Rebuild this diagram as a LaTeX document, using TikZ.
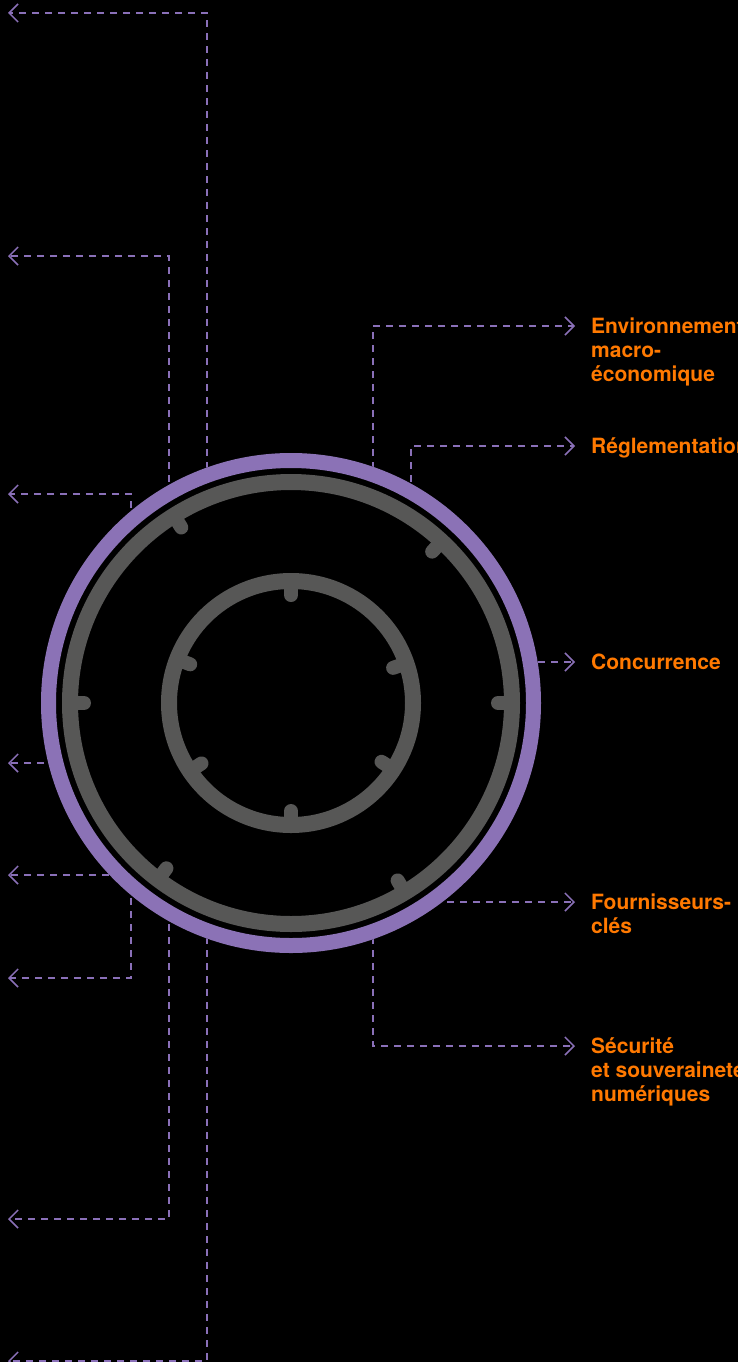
\documentclass[tikz,border=0pt]{standalone}
\usepackage{fontspec}
\setmainfont{TeX Gyre Heros}
\usetikzlibrary{arrows.meta}
\definecolor{ringpurple}{HTML}{8B72B6}
\definecolor{linepurple}{HTML}{8A70B8}
\definecolor{ringgray}{HTML}{575756}
\definecolor{lblorange}{HTML}{FF7900}
\begin{document}
\begin{tikzpicture}[x=1pt,y=-1pt,
  conn/.style={draw=linepurple, line width=1.5pt, dash pattern=on 7pt off 6pt,
    -{Straight Barb[length=9pt,width=18pt,line width=1.5pt]}},
  lbl/.style={text=lblorange, font=\fontsize{21}{24}\selectfont\bfseries,
    align=left, anchor=base west, inner sep=0pt},
  ringline/.style={draw=ringgray, line width=16pt},
  tickmark/.style={draw=ringgray, line width=14pt, line cap=round}]
\useasboundingbox (0,0) rectangle (738,1362);
\clip (0,0) rectangle (738,1362);
\fill[black] (0,0) rectangle (738,1362);

\coordinate (c) at (291,703);

% start points (hidden under the disk)
\coordinate (sA) at (207,703);
\coordinate (sB) at (169,703);
\coordinate (sC) at (131,703);
\coordinate (sD) at (291,763);
\coordinate (sE) at (291,875);
\coordinate (sF) at (373,703);
\coordinate (sG) at (411,703);
\coordinate (sH) at (291,662);
\coordinate (sI) at (291,902);

% left ends
\coordinate (e1) at (8,13);
\coordinate (e2) at (8,256);
\coordinate (e3) at (8,494);
\coordinate (e4) at (8,763);
\coordinate (e5) at (8,875);
\coordinate (e6) at (8,978);
\coordinate (e7) at (8,1219);
\coordinate (e8) at (8,1361);

% right ends
\coordinate (r1) at (575,326);
\coordinate (r2) at (575,446);
\coordinate (r3) at (575,662);
\coordinate (r4) at (575,902);
\coordinate (r5) at (575,1046);

% connectors
\draw[conn] (sA) |- (e1);
\draw[conn] (sB) |- (e2);
\draw[conn] (sC) |- (e3);
\draw[conn] (sD) -- (e4);
\draw[conn] (sE) -- (e5);
\draw[conn] (sC) |- (e6);
\draw[conn] (sB) |- (e7);
\draw[conn] (sA) |- (e8);
\draw[conn] (sF) |- (r1);
\draw[conn] (sG) |- (r2);
\draw[conn] (sH) -- (r3);
\draw[conn] (sI) -- (r4);
\draw[conn] (sF) |- (r5);

% hub
\fill[black] (c) circle[radius=250];
\draw[ringpurple, line width=15pt] (c) circle[radius=242.5];
\draw[ringline] (c) circle[radius=221];
\draw[ringline] (c) circle[radius=122];
\foreach \a in {0,47,122,180,233,301}
  \draw[tickmark, shift={(c)}] (-\a:215) -- (-\a:207);
\foreach \a in {19,90,159,214,270,327}
  \draw[tickmark, shift={(c)}] (-\a:118) -- (-\a:108);

% labels (base anchor = baseline of the last line)
\node[lbl] (env) at (591,381) {Environnement\\macro-\\économique};
\node[lbl] (reg) at (591,453) {Réglementation};
\node[lbl] (conc) at (591,669) {Concurrence};
\node[lbl] (four) at (591,933) {Fournisseurs-\\clés};
\node[lbl] (secu) at (591,1101) {Sécurité\\et souveraineté\\numériques};
\end{tikzpicture}
\end{document}
